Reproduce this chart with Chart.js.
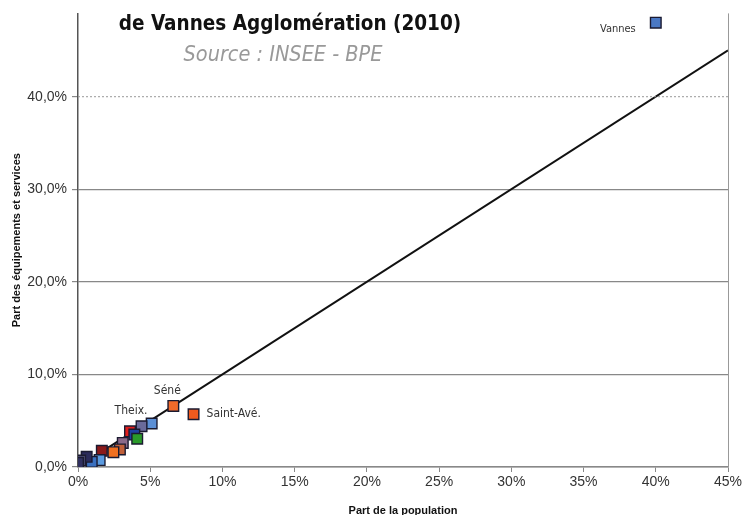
<!DOCTYPE html>
<html>
<head>
<meta charset="utf-8">
<script src="https://cdn.jsdelivr.net/npm/chart.js@4/dist/chart.umd.min.js"></script>
<style>
  html, body { margin: 0; padding: 0; background: #fff; }
  #grafico { width: 746px; height: 515px; }
</style>
</head>
<body>
<div id="grafico"><canvas id="graficoEquip" width="746" height="515"></canvas></div>
<script>
// part de la population (%) / part des équipements et services (%)
var communes = ['Vannes', 'Séné', 'Saint-Avé.', '', '', 'Theix.', '', '', '', '', '', '', '', '', '', '', ''];
var partPop   = [40.0, 6.6, 8.0, 5.1, 4.4, 3.6, 3.9, 4.1, 3.1, 2.9, 2.45, 1.65, 1.5, 0.95, 0.6, 0.15, 0.0];
var partEquip = [48.0, 6.6, 5.7, 4.7, 4.4, 3.85, 3.5, 3.05, 2.6, 1.9, 1.6, 1.75, 0.75, 0.55, 1.1, 0.7, 0.45];
var couleurs  = ['#4a78c4', '#f26a2a', '#f05a1e', '#5b8fd6', '#6a6a9a', '#e01e1e', '#1f3f9f', '#2a9a2a',
                 '#8a6a8a', '#c0603a', '#f07020', '#8b1a1a', '#5b9be0', '#3a70c0', '#2a2a5a', '#50507a', '#303060'];
var diagX = [0, 45];
var ticksX = [0, 5, 10, 15, 20, 25, 30, 35, 40, 45];
var ticksY = [0, 10, 20, 30, 40];

var pontos = [];
for (var i in partPop) {
    pontos.push({ x: partPop[i], y: partEquip[i] });
}
var diagonal = diagX.map(function(v) { return { x: v, y: v }; });

const fonte = '"DejaVu Sans Condensed", "DejaVu Sans", sans-serif';
const arial = '"Liberation Sans", Arial, sans-serif';

const textos = {
    id: 'textos',
    afterDatasetsDraw(chart) {
        const ctx = chart.ctx;
        const sx = chart.scales.x, sy = chart.scales.y;
        const area = chart.chartArea;
        ctx.save();
        // ligne 40 % en pointillé
        ctx.strokeStyle = '#999';
        ctx.lineWidth = 1;
        ctx.setLineDash([2, 2]);
        ctx.beginPath();
        ctx.moveTo(area.left, sy.getPixelForValue(40));
        ctx.lineTo(area.right, sy.getPixelForValue(40));
        ctx.stroke();
        ctx.setLineDash([]);
        // bord droit
        ctx.strokeStyle = '#999';
        ctx.beginPath();
        ctx.moveTo(area.right + 0.5, area.top);
        ctx.lineTo(area.right + 0.5, area.bottom);
        ctx.stroke();

        // étiquettes des communes
        ctx.fillStyle = '#333';
        ctx.textBaseline = 'middle';
        for (var i in communes) {
            if (!communes[i]) continue;
            var px = sx.getPixelForValue(partPop[i]);
            var py = sy.getPixelForValue(partEquip[i]);
            if (communes[i] == 'Vannes') {
                ctx.font = '11px ' + fonte;
                ctx.textAlign = 'right';
                ctx.fillText(communes[i], px - 20, py + 6);
            } else if (communes[i] == 'Séné') {
                ctx.font = '12px ' + fonte;
                ctx.textAlign = 'center';
                ctx.fillText(communes[i], px - 6, py - 15);
            } else if (communes[i] == 'Saint-Avé.') {
                ctx.font = '12px ' + fonte;
                ctx.textAlign = 'left';
                ctx.fillText(communes[i], px + 13, py);
            } else {
                ctx.font = '12px ' + fonte;
                ctx.textAlign = 'center';
                ctx.fillText(communes[i], px + 1, py - 20);
            }
        }

        // titre
        ctx.textAlign = 'center';
        ctx.fillStyle = '#111';
        ctx.font = 'bold 20.5px ' + fonte;
        ctx.fillText('de Vannes Agglomération (2010)', 290, 25);
        ctx.fillStyle = '#999';
        ctx.font = 'italic 21.5px ' + fonte;
        ctx.fillText('Source : INSEE - BPE', 283, 55);

        // titres des axes
        ctx.fillStyle = '#111';
        ctx.font = 'bold 11px ' + arial;
        ctx.fillText('Part de la population', (area.left + area.right) / 2, 511);
        ctx.translate(17, (area.top + area.bottom) / 2);
        ctx.rotate(-Math.PI / 2);
        ctx.fillText('Part des équipements et services', 0, 0);
        ctx.restore();
    }
};

new Chart(document.getElementById('graficoEquip'), {
    type: 'scatter',
    data: {
        datasets: [
            {
                label: 'Diagonale',
                data: diagonal,
                showLine: true,
                borderColor: '#111',
                borderWidth: 2,
                pointRadius: 0,
                order: 2
            },
            {
                label: 'Communes',
                data: pontos,
                pointStyle: 'rect',
                pointRadius: 7.5,
                pointBackgroundColor: couleurs,
                pointBorderColor: '#1a1a30',
                pointBorderWidth: 1.4,
                order: 1
            }
        ]
    },
    options: {
        responsive: false,
        animation: false,
        devicePixelRatio: 1,
        layout: { padding: { top: 13, right: 18, left: 0, bottom: 0 } },
        plugins: {
            legend: { display: false },
            tooltip: { enabled: false }
        },
        scales: {
            x: {
                type: 'linear',
                min: 0,
                max: 45,
                afterFit: function(s) { s.height = 48; },
                afterBuildTicks: function(s) { s.ticks = ticksX.map(function(v) { return { value: v }; }); },
                ticks: {
                    callback: function(v) { return v + '%'; },
                    color: '#333',
                    font: { family: arial, size: 14 },
                    padding: 2
                },
                grid: { drawOnChartArea: false, color: '#888', tickLength: 5 },
                border: { color: '#888', width: 1.5 }
            },
            y: {
                type: 'linear',
                min: 0,
                max: 49,
                afterFit: function(s) { s.width = 78; },
                afterBuildTicks: function(s) { s.ticks = ticksY.map(function(v) { return { value: v }; }); },
                ticks: {
                    callback: function(v) { return v.toFixed(1).replace('.', ',') + '%'; },
                    color: '#333',
                    font: { family: arial, size: 14 },
                    padding: 5
                },
                grid: {
                    color: function(c) { return c.tick && c.tick.value == 40 ? 'rgba(0,0,0,0)' : '#888'; },
                    tickColor: '#888',
                    tickLength: 6,
                    lineWidth: 1.2
                },
                border: { color: '#555', width: 1.5 }
            }
        }
    },
    plugins: [textos]
});
</script>
</body>
</html>
